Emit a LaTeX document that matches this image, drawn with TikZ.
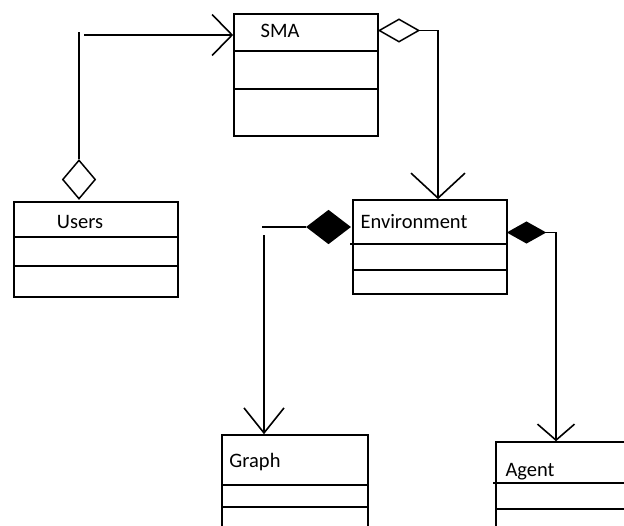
\documentclass[tikz,border=0pt]{standalone}
\usepackage{fontspec}
\setmainfont{Carlito}
\usetikzlibrary{shapes.geometric,arrows.meta,calc}
\begin{document}
\begin{tikzpicture}[x=1pt,y=-1pt,line width=1.6pt,line join=miter,
  classbox/.style={draw,rectangle,inner sep=0pt},
  dia/.style={draw,diamond,inner sep=0pt,line width=1.5pt},
  fdia/.style={dia,fill=black},
  lbl/.style={font=\fontsize{20.5}{24}\selectfont,inner sep=0pt},
  divider/.style={line width=1.6pt}]
\useasboundingbox (0,0) rectangle (624,525);
\clip (0,0) rectangle (624,525);
% classes
\node[classbox,minimum width=144pt,minimum height=122pt] (sma) at (306,75) {};
\node[classbox,minimum width=164pt,minimum height=95pt] (users) at (96,249.5) {};
\node[classbox,minimum width=154pt,minimum height=94pt] (env) at (430,247) {};
\node[classbox,minimum width=146pt,minimum height=130pt] (graph) at (295,500) {};
\node[classbox,minimum width=144pt,minimum height=130pt] (agent) at (568,507) {};
% dividers
\draw[divider] ($(sma.north west)+(0,38)$) -- ($(sma.north east)+(0,38)$);
\draw[divider] ($(sma.north west)+(0,76)$) -- ($(sma.north east)+(0,76)$);
\draw[divider] ($(users.north west)+(0,36)$) -- ($(users.north east)+(0,36)$);
\draw[divider] ($(users.north west)+(0,65)$) -- ($(users.north east)+(0,65)$);
\draw[divider] ($(env.north west)+(-2,45)$) -- ($(env.north east)+(0,45)$);
\draw[divider] ($(env.north west)+(0,71)$) -- ($(env.north east)+(0,71)$);
\draw[divider] ($(graph.north west)+(0,51)$) -- ($(graph.north east)+(0,51)$);
\draw[divider] ($(graph.north west)+(0,73)$) -- ($(graph.north east)+(0,73)$);
\draw[divider] ($(agent.north west)+(-2,42)$) -- ($(agent.north east)+(0,42)$);
\draw[divider] ($(agent.north west)+(0,68)$) -- ($(agent.north east)+(0,68)$);
% labels
\node[lbl] (tsma) at (280,31) {SMA};
\node[lbl] (tusers) at (80,222) {Users};
\node[lbl] (tenv) at (414,222) {Environment};
\node[lbl] (tgraph) at (255,462) {Graph};
\node[lbl] (tagent) at (530,472) {Agent};
% diamonds
\node[dia,minimum width=33pt,minimum height=39pt] (ud) at (79,179.5) {};
\node[dia,minimum width=40pt,minimum height=23pt] (smad) at (399,30.5) {};
\node[fdia,minimum width=43pt,minimum height=33pt] (gd) at (328.5,227) {};
\node[fdia,minimum width=37pt,minimum height=21pt] (ad) at (526.5,232.5) {};
% connectors
\coordinate (uc) at (79,32);
\coordinate (ua) at (84,35);
\draw (ud.north) -- (uc);
\draw[-{Straight Barb[length=20pt,width=41pt]}] (ua) -- (sma.west |- ua);
\draw[-{Straight Barb[length=25pt,width=54pt]}] (smad.east) -| ($(env.north)+(8,0)$);
\coordinate (g0) at (262,227);
\coordinate (g1) at (264,235);
\draw (gd.west) -- (g0);
\draw[-{Straight Barb[length=25pt,width=40pt]}] (g1) -- (g1 |- graph.north);
\coordinate (a1) at (556,0);
\draw[-{Straight Barb[length=16pt,width=37pt]}] (ad.east) -| (a1 |- agent.north);
\end{tikzpicture}
\end{document}
